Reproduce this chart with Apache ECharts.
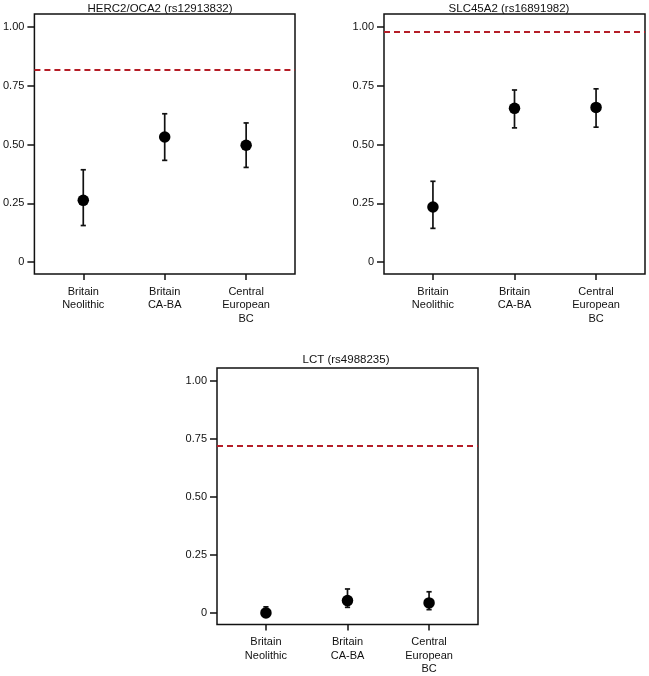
<!DOCTYPE html>
<html><head><meta charset="utf-8">
<script src="https://cdn.jsdelivr.net/npm/echarts@6/dist/echarts.min.js"></script>
<style>html,body{margin:0;padding:0;background:#fff}#c{width:649px;height:676px}</style>
</head><body><div id="c"></div>
<script>
var categories = ['Britain\nNeolithic', 'Britain\nCA-BA', 'Central\nEuropean\nBC'];
var catPositions = [1, 2, 3];
var yTicks = [0, 0.25, 0.5, 0.75, 1.0];
var panelTitles = ['HERC2/OCA2 (rs12913832)', 'SLC45A2 (rs16891982)', 'LCT (rs4988235)'];

var herc2Mean  = [0.263, 0.532, 0.497];
var herc2Lower = [0.156, 0.433, 0.403];
var herc2Upper = [0.393, 0.631, 0.592];
var herc2Ref   = 0.819;

var slcMean  = [0.235, 0.654, 0.658];
var slcLower = [0.144, 0.571, 0.574];
var slcUpper = [0.344, 0.732, 0.737];
var slcRef   = 0.979;

var lctMean  = [0.0, 0.053, 0.043];
var lctLower = [0.0, 0.024, 0.014];
var lctUpper = [0.026, 0.103, 0.091];
var lctRef   = 0.721;

var chart = echarts.init(document.getElementById('c'), null, {renderer: 'canvas'});
var FONT = 'Liberation Sans, Arial, Helvetica, sans-serif';
var TXT = '#111';

var grids = [
  {left: 34, top: 14, width: 261, height: 260},
  {left: 384, top: 14, width: 261, height: 260},
  {left: 217, top: 368, width: 261, height: 257}
];
var titlePos = [[160, 8.5], [509, 8.5], [346, 359.5]];

var panels = [
  [herc2Mean, herc2Lower, herc2Upper, herc2Ref],
  [slcMean, slcLower, slcUpper, slcRef],
  [lctMean, lctLower, lctUpper, lctRef]
];

var xAxes = [], yAxes = [], series = [], gridOpts = [], graphics = [];
grids.forEach(function (g, i) {
  gridOpts.push({left: g.left, top: g.top, width: g.width, height: g.height, show: true,
    borderColor: '#111', borderWidth: 1.5, backgroundColor: 'transparent'});
  xAxes.push({type: 'value', gridIndex: i, min: 0.4, max: 3.6, position: 'bottom',
    splitLine: {show: false}, axisLine: {show: false, onZero: false},
    axisTick: {show: true, customValues: catPositions, length: 6, lineStyle: {color: '#111', width: 1.5}},
    axisLabel: {show: true, customValues: catPositions, margin: 11, fontSize: 11, lineHeight: 13.5,
      color: TXT, fontFamily: FONT,
      formatter: function (v) { return categories[Math.round(v) - 1] || ''; }}
  });
  yAxes.push({type: 'value', gridIndex: i, min: -0.05, max: 1.055, position: 'left',
    splitLine: {show: false}, axisLine: {show: false, onZero: false},
    axisTick: {show: true, customValues: yTicks, length: 7, lineStyle: {color: '#111', width: 1.5}},
    axisLabel: {show: true, customValues: yTicks, margin: 10, fontSize: 11, color: TXT, fontFamily: FONT,
      formatter: function (v) { return Math.abs(v) < 1e-9 ? '0' : v.toFixed(2); }}
  });
  var p = panels[i];
  var pts = [], bars = [];
  for (var k = 0; k < catPositions.length; k++) {
    pts.push([catPositions[k], p[0][k]]);
    bars.push([catPositions[k], p[1][k], p[2][k]]);
  }
  series.push({
    type: 'custom', xAxisIndex: i, yAxisIndex: i, data: bars, z: 2, silent: true,
    encode: {x: 0, y: [1, 2]},
    renderItem: function (params, api) {
      var x = api.value(0);
      var lo = api.coord([x, api.value(1)]);
      var hi = api.coord([x, api.value(2)]);
      var w = 2.6, st = {stroke: '#111', lineWidth: 1.7};
      return {type: 'group', children: [
        {type: 'line', shape: {x1: lo[0], y1: lo[1], x2: hi[0], y2: hi[1]}, style: st},
        {type: 'line', shape: {x1: lo[0] - w, y1: lo[1], x2: lo[0] + w, y2: lo[1]}, style: st},
        {type: 'line', shape: {x1: hi[0] - w, y1: hi[1], x2: hi[0] + w, y2: hi[1]}, style: st}
      ]};
    }
  });
  series.push({
    type: 'scatter', xAxisIndex: i, yAxisIndex: i, data: pts, z: 3,
    symbol: 'circle', symbolSize: 11.5, itemStyle: {color: '#000', opacity: 1}, silent: true,
    markLine: {silent: true, symbol: 'none', label: {show: false},
      lineStyle: {color: '#b51d27', width: 2, type: [6, 4], opacity: 1},
      data: [{yAxis: p[3]}]}
  });
  graphics.push({type: 'text', x: titlePos[i][0], y: titlePos[i][1],
    style: {text: panelTitles[i], fill: TXT, font: '11.5px ' + FONT, textAlign: 'center', textVerticalAlign: 'middle'}});
});

chart.setOption({
  animation: false,
  backgroundColor: '#fff',
  grid: gridOpts,
  xAxis: xAxes,
  yAxis: yAxes,
  series: series,
  graphic: graphics
});
</script>
</body></html>
